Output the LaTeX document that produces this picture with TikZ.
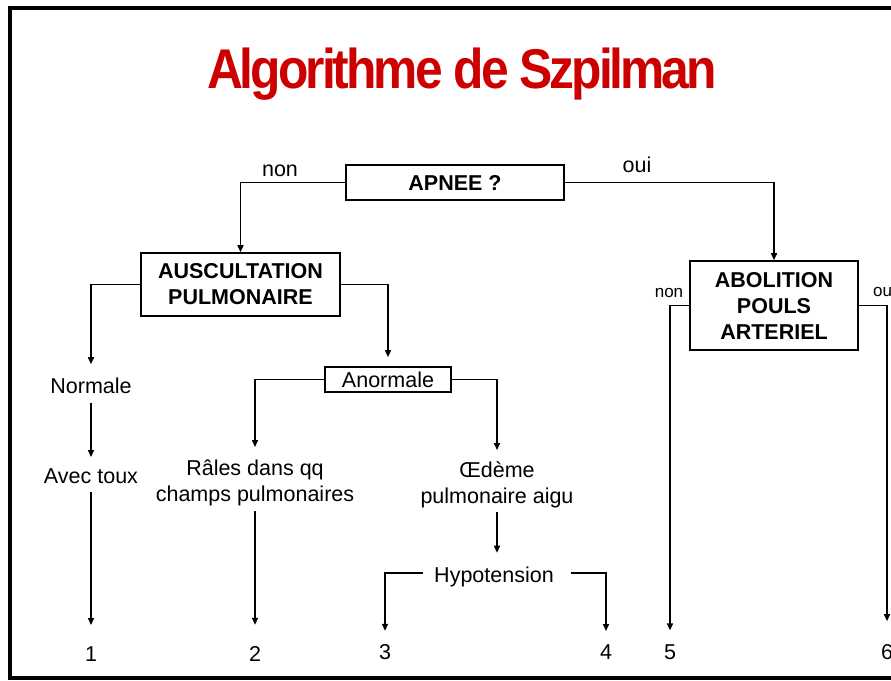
\documentclass[tikz,border=0pt]{standalone}
\usepackage{fontspec}
\usepackage{graphicx}
\setmainfont{Liberation Sans}
\newfontfamily\titlefont[LetterSpace=-6]{Liberation Sans}
\usetikzlibrary{arrows.meta}
\definecolor{titlered}{HTML}{CC0000}
\begin{document}
\begin{tikzpicture}[x=1pt,y=-1pt,
  box/.style={draw, line width=1.6pt, inner sep=0pt, align=center,
              font=\bfseries\fontsize{21.5}{26}\selectfont},
  txt/.style={inner sep=0pt, align=center, font=\fontsize{21.5}{26}\selectfont},
  small/.style={inner sep=0pt, font=\fontsize{17}{20}\selectfont},
  arr/.style={line width=1.5pt, -{Triangle[length=7pt,width=6pt]}},
  frame/.style={line width=4pt}]
\useasboundingbox (0,0) rectangle (891,680);
\clip (0,0) rectangle (891,680);

% frame
\draw[frame] (900,8) -- (10,8) -- (10,678) -- (900,678);

% title
\node[anchor=base, text=titlered, inner sep=0pt] (title) at (462,88)
  {\resizebox{510pt}{\height}{\titlefont\bfseries\fontsize{56}{60}\selectfont Algorithme de Szpilman}};

% boxes
\node[box, minimum width=218pt, minimum height=35pt] (apnee) at (455,182.5) {APNEE ?};
\node[box, minimum width=199pt, minimum height=63pt] (ausc) at (240.5,284.5) {AUSCULTATION\\PULMONAIRE};
\node[box, minimum width=168pt, minimum height=89pt] (abol) at (774,305.5) {ABOLITION\\POULS\\ARTERIEL};
\node[box, font=\fontsize{21.5}{26}\selectfont, minimum width=126pt, minimum height=25pt] (anorm) at (388,379.5) {Anormale};

% text nodes
\node[txt, anchor=base] (normale) at (91,393) {Normale};
\node[txt, anchor=base] (avec) at (91,483) {Avec toux};
\node[txt, anchor=north] (rales) at (255,460) {Râles dans qq\\champs pulmonaires};
\node[txt, anchor=north] (oedeme) at (497,461) {Œdème\\pulmonaire aigu};
\node[txt, anchor=base] (hypo) at (494,582) {Hypotension};
\node[txt, anchor=base] (n1) at (91,661) {1};
\node[txt, anchor=base] (n2) at (255,661) {2};
\node[txt, anchor=base] (n3) at (385,659) {3};
\node[txt, anchor=base] (n4) at (606,659) {4};
\node[txt, anchor=base] (n5) at (670,659) {5};
\node[txt, anchor=base] (n6) at (887,659) {6};

% labels
\node[txt, anchor=base] (non1) at (280,176) {non};
\node[txt, anchor=base] (oui1) at (637,172) {oui};
\node[small, anchor=base] (non2) at (669,297) {non};
\node[small, anchor=base west] (oui2) at (873,296) {oui};

% connectors
\draw[arr] (apnee.west) -| (ausc.north);
\draw[arr] (apnee.east) -| (abol.north);
\draw[arr] (ausc.west) -| ([yshift=13pt]normale.north);
\draw[arr] ([yshift=-10pt]normale.south) -- ([yshift=11pt]avec.north);
\draw[arr] ([yshift=-9pt]avec.south) -- ([yshift=21pt]n1.north);
\draw[arr] (ausc.east) -| ([yshift=9pt]anorm.north);
\draw[arr] (anorm.west) -| ([yshift=13pt]rales.north);
\draw[arr] (anorm.east) -| ([yshift=11pt]oedeme.north);
\draw[arr] ([yshift=-4.5pt]rales.south) -- ([yshift=21pt]n2.north);
\draw[arr] ([yshift=-4.5pt]oedeme.south) -- ([yshift=13.5pt]oedeme.south |- hypo.north);
\draw[arr] ([xshift=-11pt,yshift=3.5pt]hypo.west) -| ([yshift=13pt]n3.north);
\draw[arr] ([xshift=17pt,yshift=3.5pt]hypo.east) -| ([yshift=13pt]n4.north);
\draw[arr] (abol.west) -| ([yshift=13.6pt]n5.north);
\draw[arr] (abol.east) -| ([yshift=22.6pt]n6.north);
\end{tikzpicture}
\end{document}
